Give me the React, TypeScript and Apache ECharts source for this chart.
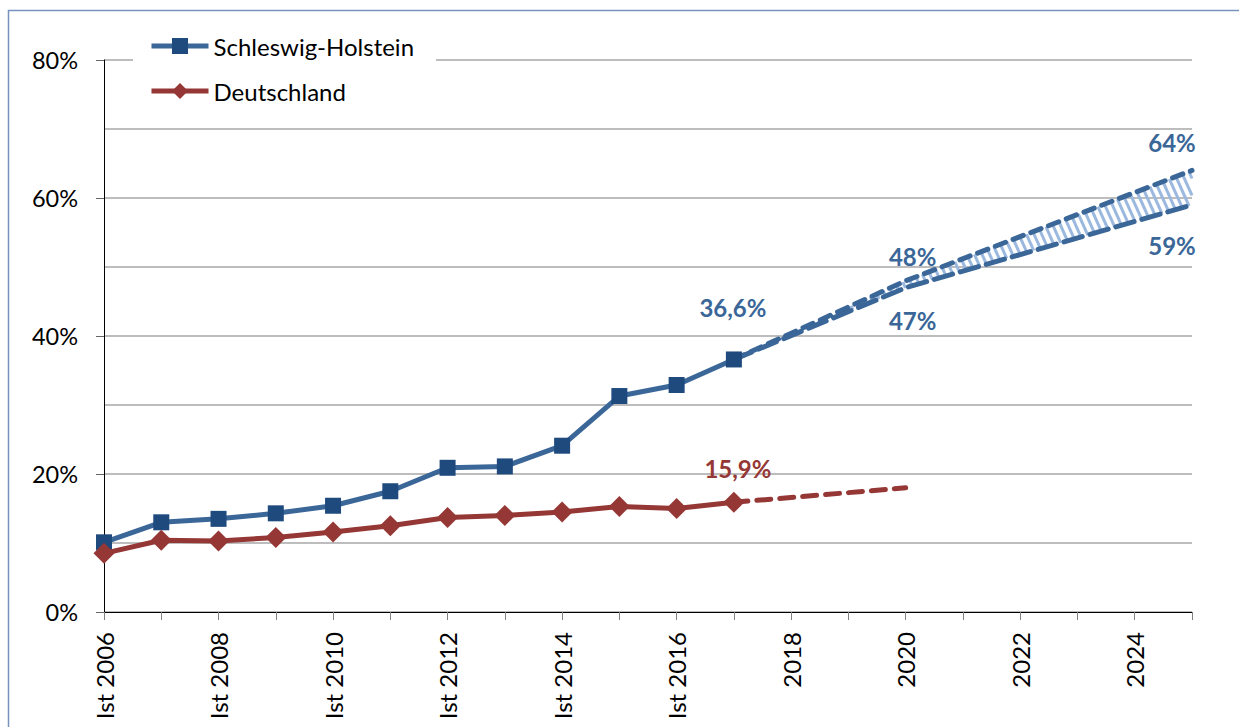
import React, { useEffect, useRef } from "react";
import * as echarts from "echarts";

// ---- data ----
const years = [2006, 2007, 2008, 2009, 2010, 2011, 2012, 2013, 2014, 2015, 2016, 2017];
const shValues = [10.1, 13.0, 13.5, 14.3, 15.4, 17.5, 20.9, 21.1, 24.1, 31.3, 32.9, 36.6];
const deValues = [8.5, 10.4, 10.3, 10.8, 11.6, 12.5, 13.7, 14.0, 14.5, 15.3, 15.0, 15.9];

const projYears = [2017, 2020, 2025];
const shHigh = [36.6, 48, 64];
const shLow = [36.6, 47, 59];
const deProjYears = [2017, 2020];
const deProj = [15.9, 18];

const yTicks = [0, 20, 40, 60, 80];
const istYearLimit = 2016;

const BLUE = "#3A6698";
const BLUE_MARK = "#1F4A7E";
const RED = "#953735";
const FONT = "Lato";

const fmt = (v: number) => String(v).replace(".", ",") + "%";

const pair = (xs: number[], ys: number[]) => xs.map((x, i) => [x, ys[i]]);

export default function App() {
  const ref = useRef<HTMLDivElement>(null);

  useEffect(() => {
    document.body.style.margin = "0";
    if (!ref.current) return;
    const chart = echarts.init(ref.current, undefined, { renderer: "svg" });

    const interp = (pts: number[][], x: number) => {
      for (let i = 0; i < pts.length - 1; i++) {
        const a = pts[i], b = pts[i + 1];
        if (x <= b[0] || i === pts.length - 2) {
          const t = (x - a[0]) / (b[0] - a[0]);
          return a[1] + t * (b[1] - a[1]);
        }
      }
      return pts[pts.length - 1][1];
    };

    const shLabel = (offset: number[], pos = "top") => ({
      show: true,
      position: pos,
      offset,
      formatter: (p: any) => fmt(p.value[1]),
      color: BLUE,
      fontFamily: FONT,
      fontWeight: "bold",
      fontSize: 24,
    });

    const shData = pair(years, shValues).map((v, i) =>
      i === years.length - 1 ? { value: v, label: shLabel([-1, -27]) } : v
    );
    const deData = pair(years, deValues).map((v, i) =>
      i === years.length - 1
        ? {
            value: v,
            label: {
              show: true,
              position: "top",
              offset: [4, -6],
              formatter: (p: any) => fmt(p.value[1]),
              color: RED,
              fontFamily: FONT,
              fontWeight: "bold",
              fontSize: 24,
            },
          }
        : v
    );
    const highData = pair(projYears, shHigh).map((v, i) =>
      i === 1
        ? { value: v, label: shLabel([7, -7]) }
        : i === 2
        ? { value: v, label: shLabel([-20, -11]) }
        : v
    );
    const lowData = pair(projYears, shLow).map((v, i) =>
      i === 1
        ? { value: v, label: shLabel([7, 16], "bottom") }
        : i === 2
        ? { value: v, label: shLabel([-20, 24], "bottom") }
        : v
    );

    const option: any = {
      animation: false,
      backgroundColor: "#fff",
      textStyle: { fontFamily: FONT },
      graphic: [
        {
          type: "rect",
          left: 6,
          top: 8,
          shape: { width: 1300, height: 800 },
          style: { fill: "none", stroke: "#7892BE", lineWidth: 1.5 },
          silent: true,
          z: -10,
        },
      ],
      grid: { left: 104, right: 47, top: 60, bottom: 115, containLabel: false },
      legend: {
        orient: "vertical",
        left: 133,
        top: 26,
        data: ["Schleswig-Holstein", "Deutschland"],
        backgroundColor: "#fff",
        padding: [8, 22, 8, 16],
        itemWidth: 57,
        itemHeight: 20,
        itemGap: 21,
        lineStyle: { width: 5 },
        textStyle: { fontSize: 24, color: "#000", fontFamily: FONT },
        z: 10,
      },
      xAxis: {
        type: "value",
        min: 2006,
        max: 2025,
        interval: 1,
        axisLine: { lineStyle: { color: "#000", width: 1 } },
        axisTick: { show: true, length: 8, lineStyle: { color: "#808080" } },
        splitLine: { show: false },
        axisLabel: {
          rotate: 90,
          margin: 20,
          fontSize: 24,
          color: "#000",
          fontFamily: FONT,
          formatter: (v: number) =>
            v % 2 === 0 ? (v <= istYearLimit ? "Ist " + v : String(v)) : "",
        },
      },
      yAxis: {
        type: "value",
        min: yTicks[0],
        max: yTicks[yTicks.length - 1],
        interval: 20,
        axisLine: { show: true, lineStyle: { color: "#000", width: 1 } },
        axisTick: { show: true, length: 8, lineStyle: { color: "#666" } },
        minorTick: { show: false, splitNumber: 2 },
        splitLine: { show: true, lineStyle: { color: "#BDBDBD", width: 2 } },
        minorSplitLine: { show: true, lineStyle: { color: "#BDBDBD", width: 2 } },
        axisLabel: {
          margin: 26,
          fontSize: 23.5,
          color: "#000",
          fontFamily: FONT,
          formatter: "{value}%",
        },
      },
      series: [
        {
          name: "hatch",
          type: "custom",
          silent: true,
          z: 1,
          data: [[projYears[0], shHigh[0]]],
          encode: { x: 0, y: 1 },
          renderItem: (params: any, api: any) => {
            const up = pair(projYears, shHigh).map((p) => api.coord(p));
            const lo = pair(projYears, shLow).map((p) => api.coord(p));
            const x0 = up[0][0];
            const x1 = up[up.length - 1][0];
            const k = 0.45;
            const children: any[] = [];
            for (let x = x0; x < x1; x += 6.5) {
              const yt = interp(up, x);
              let xb = x;
              let yb = interp(lo, x);
              for (let it = 0; it < 6; it++) {
                xb = x + k * (yb - yt);
                yb = interp(lo, Math.min(xb, x1));
              }
              if (yb - yt < 1) continue;
              if (xb > x1) {
                xb = x1;
                yb = yt + (x1 - x) / k;
              }
              children.push({
                type: "line",
                shape: { x1: x, y1: yt, x2: xb, y2: yb },
                style: { stroke: "#9BB8DE", lineWidth: 3 },
              });
            }
            return { type: "group", children };
          },
        },
        {
          name: "Schleswig-Holstein",
          type: "line",
          data: shData,
          z: 3,
          symbol: "rect",
          symbolSize: 16,
          lineStyle: { color: BLUE, width: 5 },
          itemStyle: { color: BLUE_MARK },
          color: BLUE_MARK,
        },
        {
          name: "SH hoch",
          type: "line",
          data: highData,
          z: 2,
          symbol: "circle",
          symbolSize: 0,
          showSymbol: true,
          lineStyle: { color: BLUE, width: 5, type: [11, 8], cap: "round" },
          itemStyle: { color: BLUE },
        },
        {
          name: "SH niedrig",
          type: "line",
          data: lowData,
          z: 2,
          symbol: "circle",
          symbolSize: 0,
          showSymbol: true,
          lineStyle: { color: BLUE, width: 5, type: [19, 8], cap: "round" },
          itemStyle: { color: BLUE },
        },
        {
          name: "DE Prognose",
          type: "line",
          data: pair(deProjYears, deProj),
          z: 2,
          symbol: "none",
          lineStyle: { color: RED, width: 5, type: [14, 9], cap: "round" },
          itemStyle: { color: RED },
        },
        {
          name: "Deutschland",
          type: "line",
          data: deData,
          z: 4,
          symbol: "diamond",
          symbolSize: 21,
          lineStyle: { color: RED, width: 5 },
          itemStyle: { color: RED },
          color: RED,
        },
      ],
    };

    chart.setOption(option);
    return () => chart.dispose();
  }, []);

  return <div ref={ref} style={{ width: 1239, height: 727 }} />;
}
